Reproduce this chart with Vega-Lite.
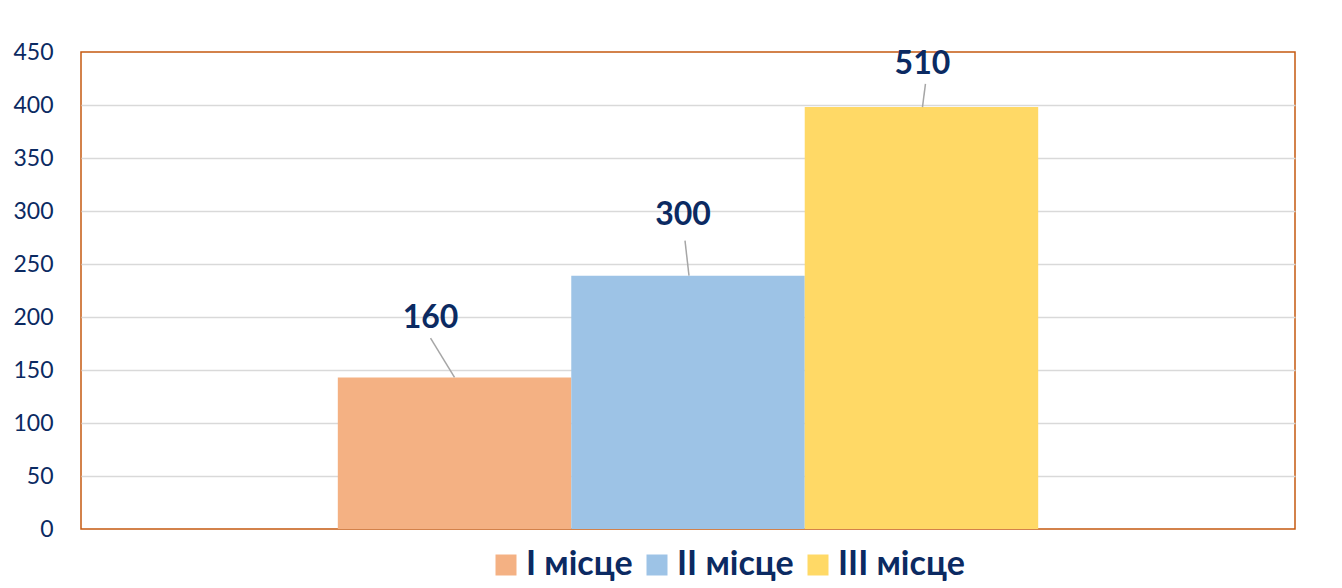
{
  "$schema": "https://vega.github.io/schema/vega-lite/v6.json",
  "width": 1214,
  "height": 477,
  "autosize": {"type": "none"},
  "padding": {"left": 81, "top": 52, "right": 47, "bottom": 59},
  "background": "white",
  "data": {
    "values": [
      {"series": "I місце", "value": 143, "label": "160", "labelPos": 198.6, "lineTop": 180},
      {"series": "II місце", "value": 239, "label": "300", "labelPos": 296, "lineTop": 272},
      {"series": "III місце", "value": 398, "label": "510", "labelPos": 439, "lineTop": 420}
    ]
  },
  "encoding": {
    "x": {
      "field": "series",
      "type": "nominal",
      "axis": null,
      "scale": {"domain": [" ", "I місце", "II місце", "III місце", "  "], "paddingInner": 0, "paddingOuter": 0.1}
    }
  },
  "layer": [
    {
      "mark": {"type": "bar"},
      "encoding": {
        "y": {
          "field": "value",
          "type": "quantitative",
          "scale": {"domain": [0, 450], "nice": false},
          "axis": {
            "values": [0, 50, 100, 150, 200, 250, 300, 350, 400, 450],
            "title": null,
            "domain": false,
            "ticks": false,
            "labelPadding": 28,
            "labelFont": "Lato",
            "labelFontSize": 23,
            "labelColor": "#0b2a62",
            "gridColor": {"condition": {"test": "datum.value === 450 || datum.value === 0", "value": "transparent"}, "value": "#d9d9d9"},
            "gridWidth": 1.5
          }
        },
        "color": {
          "field": "series",
          "type": "nominal",
          "sort": null,
          "scale": {"range": ["#F4B183", "#9DC3E6", "#FFD966"]},
          "legend": {
            "title": null,
            "orient": "none",
            "direction": "horizontal",
            "legendX": 408,
            "legendY": 496,
            "symbolType": "square",
            "symbolSize": 441,
            "symbolStrokeWidth": 0,
            "symbolOpacity": 1,
            "labelFont": "Lato",
            "labelFontSize": 34,
            "labelFontWeight": "bold",
            "labelColor": "#0b2a62",
            "labelOffset": 3,
            "columnPadding": 7,
            "labelLimit": 400
          }
        }
      }
    },
    {
      "transform": [{"filter": "datum.series === 'I місце'"}],
      "mark": {"type": "rule", "color": "#a6a6a6", "strokeWidth": 1.5, "xOffset": -24},
      "encoding": {
        "y": {"field": "lineTop", "type": "quantitative"},
        "y2": {"field": "value"},
        "x2": {"field": "series"}
      }
    },
    {
      "transform": [{"filter": "datum.series === 'II місце'"}],
      "mark": {"type": "rule", "color": "#a6a6a6", "strokeWidth": 1.5, "xOffset": -3, "x2Offset": 1},
      "encoding": {
        "y": {"field": "lineTop", "type": "quantitative"},
        "y2": {"field": "value"},
        "x2": {"field": "series"}
      }
    },
    {
      "transform": [{"filter": "datum.series === 'III місце'"}],
      "mark": {"type": "rule", "color": "#a6a6a6", "strokeWidth": 1.5, "xOffset": 4, "x2Offset": 1},
      "encoding": {
        "y": {"field": "lineTop", "type": "quantitative"},
        "y2": {"field": "value"},
        "x2": {"field": "series"}
      }
    },
    {
      "transform": [{"filter": "datum.series === 'I місце'"}],
      "mark": {"type": "text", "font": "Lato", "fontSize": 32, "fontWeight": "bold", "color": "#0b2a62", "baseline": "middle", "dx": -24},
      "encoding": {
        "y": {"field": "labelPos", "type": "quantitative"},
        "text": {"field": "label"}
      }
    },
    {
      "transform": [{"filter": "datum.series === 'II місце'"}],
      "mark": {"type": "text", "font": "Lato", "fontSize": 32, "fontWeight": "bold", "color": "#0b2a62", "baseline": "middle", "dx": -5},
      "encoding": {
        "y": {"field": "labelPos", "type": "quantitative"},
        "text": {"field": "label"}
      }
    },
    {
      "transform": [{"filter": "datum.series === 'III місце'"}],
      "mark": {"type": "text", "font": "Lato", "fontSize": 32, "fontWeight": "bold", "color": "#0b2a62", "baseline": "middle", "dx": 1},
      "encoding": {
        "y": {"field": "labelPos", "type": "quantitative"},
        "text": {"field": "label"}
      }
    }
  ],
  "config": {
    "view": {"stroke": "#C55A11", "strokeWidth": 1.5}
  }
}
